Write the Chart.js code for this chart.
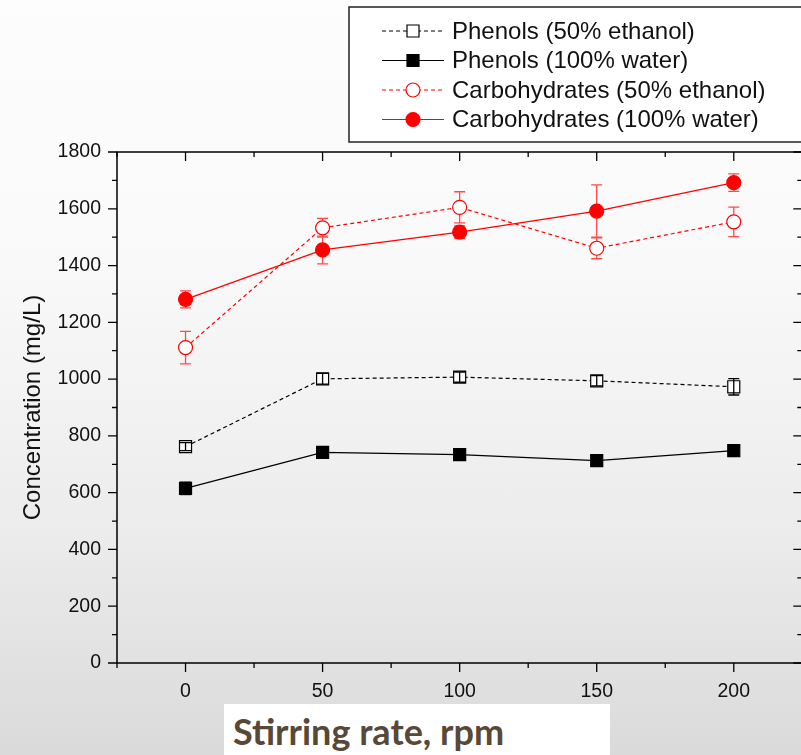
<!DOCTYPE html>
<html>
<head>
<meta charset="utf-8">
<script src="https://cdn.jsdelivr.net/npm/chart.js@4.4.1/dist/chart.umd.min.js"></script>
<style>
  html, body { margin:0; padding:0; }
  body {
    width:801px; height:755px; overflow:hidden; position:relative;
    background: linear-gradient(to bottom, #fdfdfd 0%, #f9f9f9 35%, #ececec 70%, #dadada 100%);
  }
  #wrap { position:absolute; left:0; top:0; width:812px; height:755px; }
  #xtitle {
    position:absolute; left:224px; top:704px; width:386px; height:51px;
    background:#ffffff; color:#574838;
    font-family: Lato, "Open Sans", sans-serif; font-weight:700; font-size:36px;
    line-height:36px; padding-left:9px; padding-top:9px; box-sizing:border-box; white-space:nowrap;
  }
</style>
</head>
<body>
<div id="wrap"><canvas id="c" width="812" height="755"></canvas></div>
<div id="xtitle">Stirring rate, rpm</div>
<script>
// ---------------- data ----------------
const xValues = [0, 50, 100, 150, 200];

const phenolsEthanol    = [762, 1001, 1007, 994, 973];
const phenolsEthanolErr = [14, 19, 18, 18, 29];
const phenolsWater      = [615, 742, 734, 713, 748];
const phenolsWaterErr   = [22, 10, 20, 8, 8];
const carbsEthanol      = [1111, 1533, 1605, 1461, 1554];
const carbsEthanolErr   = [57, 33, 55, 37, 52];
const carbsWater        = [1281, 1455, 1518, 1592, 1692];
const carbsWaterErr     = [30, 49, 22, 92, 31];

const seriesLabels = [
  'Phenols (50% ethanol)',
  'Phenols (100% water)',
  'Carbohydrates (50% ethanol)',
  'Carbohydrates (100% water)'
];

const xMajorTicks = [0, 50, 100, 150, 200];
const xMinorTicks = [-25, 25, 75, 125, 175, 225];
const yMajorTicks = [0, 200, 400, 600, 800, 1000, 1200, 1400, 1600, 1800];
const yMinorTicks = [100, 300, 500, 700, 900, 1100, 1300, 1500, 1700];

const yTitle = 'Concentration (mg/L)';

// ---------------- styling ----------------
const FONT = "'Liberation Sans', Arial, sans-serif";
const RED = '#ff0000';
const RED_ERR = '#ff4a4a';

const seriesDefs = [
  { values: phenolsEthanol, errs: phenolsEthanolErr, color:'#000', errColor:'#000', dash:[4,3], style:'rect', radius:8.5, fill:'#ffffff', errOnTop:true },
  { values: phenolsWater,   errs: phenolsWaterErr,   color:'#000', errColor:'#333', dash:[],    style:'rect', radius:8.5, fill:'#000000', errOnTop:false },
  { values: carbsEthanol,   errs: carbsEthanolErr,   color:RED,    errColor:RED_ERR, dash:[4,3], style:'circle', radius:7, fill:'#ffffff', errOnTop:false },
  { values: carbsWater,     errs: carbsWaterErr,     color:RED,    errColor:RED_ERR, dash:[],    style:'circle', radius:7, fill:RED, errOnTop:false }
];

const datasets = seriesDefs.map((s, k) => ({
  label: seriesLabels[k],
  data: xValues.map((x, i) => ({ x: x, y: s.values[i] })),
  borderColor: s.color,
  borderWidth: 1.2,
  borderDash: s.dash,
  pointStyle: s.style,
  pointRadius: s.radius,
  pointHoverRadius: s.radius,
  pointBackgroundColor: s.fill,
  pointBorderColor: s.color,
  pointBorderWidth: 1.2,
  tension: 0,
  fill: false
}));

// ---------------- plugins ----------------
function drawErrors(chart, onTop) {
  const ctx = chart.ctx, xs = chart.scales.x, ys = chart.scales.y;
  ctx.save();
  seriesDefs.forEach(s => {
    if (s.errOnTop !== onTop) return;
    ctx.strokeStyle = s.errColor;
    ctx.lineWidth = 1.3;
    ctx.setLineDash([]);
    xValues.forEach((x, i) => {
      const px = xs.getPixelForValue(x);
      const top = ys.getPixelForValue(s.values[i] + s.errs[i]);
      const bot = ys.getPixelForValue(s.values[i] - s.errs[i]);
      const cw = 5.5;
      ctx.beginPath();
      ctx.moveTo(px, top); ctx.lineTo(px, bot);
      ctx.moveTo(px - cw, top); ctx.lineTo(px + cw, top);
      ctx.moveTo(px - cw, bot); ctx.lineTo(px + cw, bot);
      ctx.stroke();
    });
  });
  ctx.restore();
}

function drawFrame(chart) {
  const ctx = chart.ctx, xs = chart.scales.x, ys = chart.scales.y;
  const a = chart.chartArea;
  ctx.save();
  ctx.strokeStyle = '#000';
  ctx.lineWidth = 1.5;
  ctx.setLineDash([]);
  ctx.beginPath();
  ctx.rect(a.left, a.top, a.right - a.left, a.bottom - a.top);
  ctx.stroke();
  ctx.lineWidth = 1.3;
  ctx.beginPath();
  const tickX = (v, len) => {
    const p = xs.getPixelForValue(v);
    ctx.moveTo(p, a.bottom); ctx.lineTo(p, a.bottom + len);   // bottom, outward
    ctx.moveTo(p, a.top);    ctx.lineTo(p, a.top + len);      // top, inward
  };
  const tickY = (v, len) => {
    const p = ys.getPixelForValue(v);
    ctx.moveTo(a.left, p);  ctx.lineTo(a.left - len, p);      // left, outward
    ctx.moveTo(a.right, p); ctx.lineTo(a.right - len, p);     // right, inward
  };
  xMajorTicks.forEach(v => tickX(v, 9));
  xMinorTicks.forEach(v => tickX(v, 5));
  yMajorTicks.forEach(v => tickY(v, 9));
  yMinorTicks.forEach(v => tickY(v, 5));
  ctx.stroke();
  ctx.restore();
}

function drawMarker(ctx, s, x, y) {
  ctx.save();
  ctx.setLineDash([]);
  ctx.lineWidth = 1.2;
  ctx.strokeStyle = s.color;
  ctx.fillStyle = s.fill;
  ctx.beginPath();
  if (s.style === 'circle') {
    ctx.arc(x, y, s.radius, 0, Math.PI * 2);
  } else {
    const h = s.radius * Math.SQRT1_2;
    ctx.rect(x - h, y - h, 2 * h, 2 * h);
  }
  ctx.fill();
  ctx.stroke();
  ctx.restore();
}

function drawLegend(chart) {
  const ctx = chart.ctx;
  ctx.save();
  ctx.fillStyle = '#ffffff';
  ctx.fillRect(349, 7, 470, 135);
  ctx.strokeStyle = '#222';
  ctx.lineWidth = 1.5;
  ctx.strokeRect(349, 7, 470, 135);
  seriesDefs.forEach((s, k) => {
    const y = 31 + k * 29.5;
    ctx.strokeStyle = s.color;
    ctx.lineWidth = 1.2;
    ctx.setLineDash(s.dash);
    ctx.beginPath();
    ctx.moveTo(382, y); ctx.lineTo(444, y);
    ctx.stroke();
    drawMarker(ctx, s, 413, y);
    ctx.setLineDash([]);
    ctx.fillStyle = '#111';
    ctx.font = '24px ' + FONT;
    ctx.textAlign = 'left';
    ctx.textBaseline = 'middle';
    ctx.fillText(chart.data.datasets[k].label, 452, y + 1);
  });
  ctx.restore();
}

const decorPlugin = {
  id: 'decor',
  beforeDatasetsDraw(chart) { drawFrame(chart); drawErrors(chart, false); },
  afterDatasetsDraw(chart) { drawErrors(chart, true); },
  afterDraw(chart) { drawLegend(chart); }
};

// ---------------- chart ----------------
new Chart(document.getElementById('c'), {
  type: 'line',
  data: { datasets: datasets },
  plugins: [decorPlugin],
  options: {
    responsive: false,
    devicePixelRatio: 1,
    animation: false,
    layout: { padding: { top: 152, left: 0, right: 7, bottom: 0 } },
    plugins: { legend: { display: false }, tooltip: { enabled: false } },
    events: [],
    scales: {
      x: {
        type: 'linear',
        min: -25, max: 225,
        afterBuildTicks: sc => { sc.ticks = xMajorTicks.map(v => ({ value: v })); },
        afterFit: sc => { sc.height = 92; },
        grid: { display: false, drawTicks: false },
        border: { display: false },
        ticks: { autoSkip: false, maxRotation: 0, padding: 17, color: '#111',
                 callback: v => String(v),
                 font: { family: FONT, size: 19.5 } }
      },
      y: {
        type: 'linear',
        min: 0, max: 1800,
        afterBuildTicks: sc => { sc.ticks = yMajorTicks.map(v => ({ value: v })); },
        afterFit: sc => { sc.width = 117; },
        grid: { display: false, drawTicks: false },
        border: { display: false },
        ticks: { padding: 16, color: '#111', callback: v => String(v),
                 font: { family: FONT, size: 19.5 } },
        title: { display: true, text: yTitle, color: '#111',
                 font: { family: FONT, size: 24 }, padding: { top: 19, bottom: 0 } }
      }
    }
  }
});
</script>
</body>
</html>
